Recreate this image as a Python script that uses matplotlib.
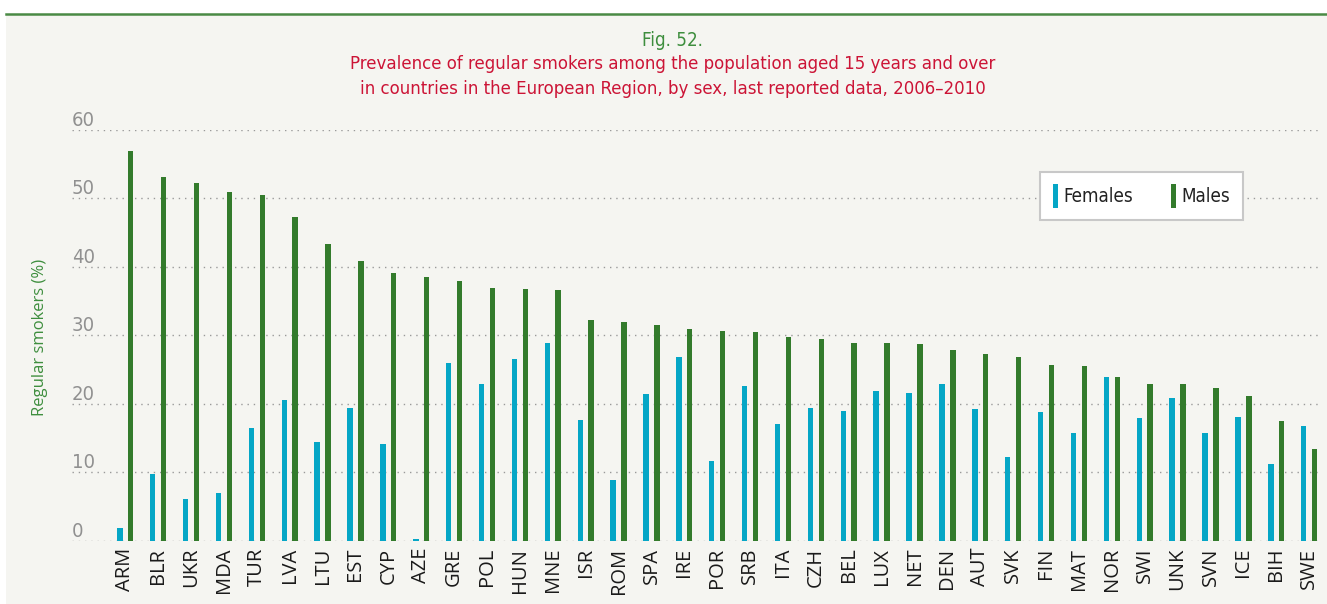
import matplotlib
matplotlib.use("Agg")
import matplotlib.pyplot as plt
import numpy as np
from matplotlib.patches import Rectangle

# ---- Data ----
COUNTRIES = ["ARM", "BLR", "UKR", "MDA", "TUR", "LVA", "LTU", "EST", "CYP", "AZE",
             "GRE", "POL", "HUN", "MNE", "ISR", "ROM", "SPA", "IRE", "POR", "SRB",
             "ITA", "CZH", "BEL", "LUX", "NET", "DEN", "AUT", "SVK", "FIN", "MAT",
             "NOR", "SWI", "UNK", "SVN", "ICE", "BIH", "SWE"]
FEMALES = [1.9, 9.7, 6.1, 7.0, 16.5, 20.6, 14.4, 19.4, 14.1, 0.2,
           26.0, 22.9, 26.6, 28.9, 17.7, 8.9, 21.4, 26.9, 11.7, 22.6,
           17.1, 19.4, 18.9, 21.9, 21.6, 22.9, 19.3, 12.2, 18.8, 15.7,
           23.9, 17.9, 20.9, 15.8, 18.1, 11.2, 16.7]
MALES = [57.0, 53.1, 52.3, 51.0, 50.5, 47.3, 43.3, 40.8, 39.1, 38.5,
         37.9, 36.9, 36.7, 36.6, 32.2, 32.0, 31.5, 30.9, 30.6, 30.5,
         29.8, 29.5, 28.9, 28.9, 28.7, 27.9, 27.3, 26.8, 25.6, 25.5,
         23.9, 22.9, 22.9, 22.3, 21.2, 17.5, 13.4]
Y_TICKS = [0, 10, 20, 30, 40, 50, 60]

# ---- Style ----
FEMALE_COLOR = "#05a6c6"
MALE_COLOR = "#337b2c"
TITLE_GREEN = "#3e8e3e"
TITLE_RED = "#cc1436"
BG = "#f5f5f1"
NARROW = dict(family="DejaVu Sans", stretch="condensed")
REGULAR = ["Open Sans", "DejaVu Sans"]


def plot_chart():
    fig = plt.figure(figsize=(13.27, 6.04), dpi=100, facecolor="white")

    # grey panel with green rule on top
    fig.patches.append(Rectangle((6 / 1327, 0), 1, 1 - 14 / 604, transform=fig.transFigure,
                                 facecolor=BG, edgecolor="none", zorder=-5))
    fig.lines.append(plt.Line2D([6 / 1327, 1], [1 - 14 / 604] * 2, transform=fig.transFigure,
                                color="#4a8a45", linewidth=1.8, zorder=-4))

    ax = fig.add_axes([72 / 1327, 1 - 540.7 / 604, 1248 / 1327, 410.7 / 604])
    ax.set_facecolor("none")

    x = np.arange(len(COUNTRIES))
    w = 0.165
    ax.bar(x - w, FEMALES, width=w, color=FEMALE_COLOR, label="Females", zorder=3)
    ax.bar(x + w, MALES, width=w, color=MALE_COLOR, label="Males", zorder=3)

    ax.set_xlim(-1.62, 36.33)
    ax.set_ylim(0, 60)
    for s in ax.spines.values():
        s.set_visible(False)

    ax.set_yticks(Y_TICKS)
    ax.set_yticklabels([str(v) for v in Y_TICKS], fontsize=14.5, color="#909090",
                       ha="left", va="bottom", **NARROW)
    ax.tick_params(axis="y", length=0, pad=0)
    ax.yaxis.grid(True, color="#9a9a9a", linestyle=(0, (1, 3.5)), linewidth=1.0)
    ax.set_axisbelow(True)

    ax.set_xticks(x)
    ax.set_xticklabels(COUNTRIES, rotation=90, family=REGULAR, fontsize=14.5, color="#1a1a1a")
    ax.tick_params(axis="x", length=0, pad=5)

    fig.text(40 / 1327, 1 - 337 / 604, "Regular smokers (%)", rotation=90, ha="center",
             va="center", color=TITLE_GREEN, family=REGULAR, fontsize=12)

    fig.text(672 / 1327, 1 - 40 / 604, "Fig. 52.", ha="center", va="center",
             color=TITLE_GREEN, fontsize=13.5, **NARROW)
    fig.text(673 / 1327, 1 - 76.5 / 604,
             "Prevalence of regular smokers among the population aged 15 years and over\n"
             "in countries in the European Region, by sex, last reported data, 2006\u20132010",
             ha="center", va="center", color=TITLE_RED, fontsize=13.3, linespacing=1.45,
             **NARROW)

    leg = ax.legend(loc="upper left", bbox_to_anchor=(0.776, 0.898), borderaxespad=0,
                    ncol=2, prop=dict(size=13.5, **NARROW), fancybox=False,
                    handlelength=0.28, handleheight=1.55, handletextpad=0.3,
                    columnspacing=2.0, borderpad=0.65, framealpha=1)
    leg.get_frame().set_edgecolor("#c8c8c8")
    leg.get_frame().set_linewidth(1.5)
    for t in leg.get_texts():
        t.set_color("#222222")

    fig.savefig("out.png", dpi=100, facecolor="white")


def main():
    plot_chart()


if __name__ == "__main__":
    main()
